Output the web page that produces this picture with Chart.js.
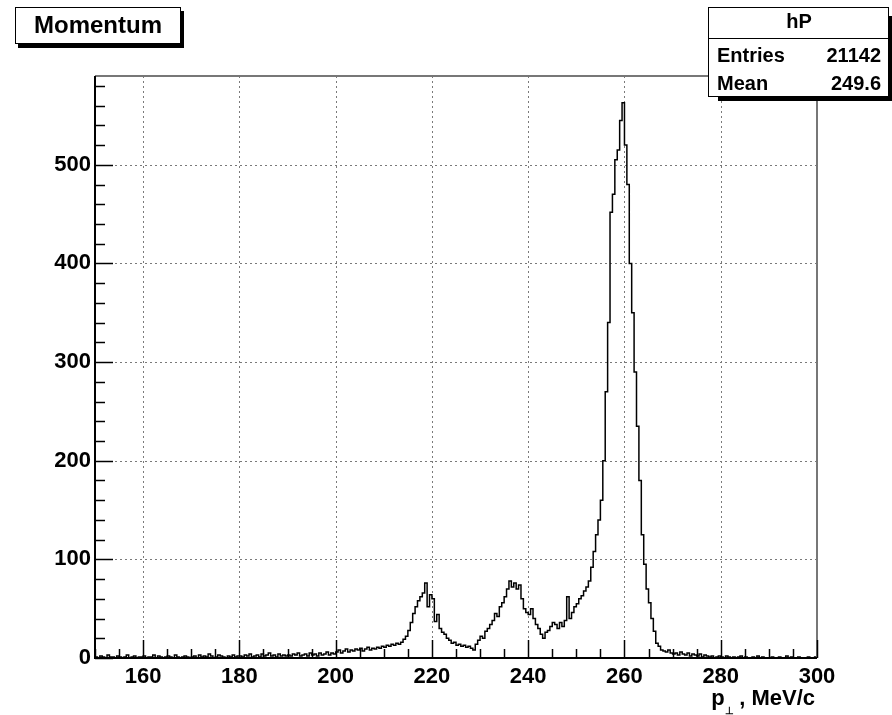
<!DOCTYPE html>
<html>
<head>
<meta charset="utf-8">
<script src="https://cdn.jsdelivr.net/npm/chart.js@4/dist/chart.umd.min.js"></script>
<style>
  html, body { margin: 0; padding: 0; background: #fff; }
  #wrap { width: 892px; height: 715px; position: relative; }
</style>
</head>
<body>
<div id="wrap"><canvas id="hP" width="892" height="715"></canvas></div>
<script>
// histogram hP, bins of 0.5 MeV/c starting at 150
const binStart = 150;
const binWidth = 0.5;
const counts150 = [1, 0, 2, 1, 0, 3, 1, 1, 0, 2, 1, 0, 1, 3, 0, 1, 2, 0, 1, 1];
const counts160 = [2, 0, 1, 1, 3, 0, 2, 1, 0, 1, 2, 1, 0, 3, 1, 0, 1, 2, 1, 0];
const counts170 = [1, 2, 0, 3, 1, 2, 1, 4, 2, 0, 1, 3, 2, 1, 0, 2, 1, 3, 1, 2];
const counts180 = [2, 1, 3, 2, 4, 1, 2, 3, 1, 4, 2, 3, 5, 2, 3, 1, 4, 2, 3, 2];
const counts190 = [3, 2, 4, 3, 5, 2, 3, 4, 2, 5, 3, 4, 2, 5, 3, 4, 6, 3, 5, 4];
const counts200 = [6, 8, 5, 7, 9, 6, 8, 7, 9, 8, 10, 7, 9, 11, 8, 10, 9, 11, 10, 12];
const counts210 = [11, 13, 12, 14, 13, 15, 14, 16, 19, 22, 28, 36, 45, 52, 58, 62, 66, 76, 52, 64];
const counts220 = [60, 37, 44, 30, 26, 24, 20, 18, 15, 16, 13, 14, 12, 13, 11, 12, 10, 8, 14, 18];
const counts230 = [22, 20, 27, 30, 34, 38, 45, 42, 52, 56, 62, 70, 78, 72, 76, 70, 74, 60, 50, 46];
const counts240 = [44, 50, 40, 34, 30, 24, 20, 26, 28, 32, 36, 34, 30, 36, 32, 38, 62, 40, 46, 52];
const counts250 = [55, 60, 63, 68, 72, 78, 92, 108, 125, 140, 160, 200, 270, 340, 452, 470, 505, 515, 545, 563];
const counts260 = [520, 480, 400, 350, 290, 235, 180, 125, 95, 70, 56, 40, 27, 15, 12, 8, 7, 6, 8, 5];
const counts270 = [4, 5, 3, 6, 4, 3, 5, 2, 4, 3, 2, 4, 1, 3, 2, 1, 2, 0, 1, 2];
const counts280 = [1, 0, 2, 1, 0, 1, 0, 1, 2, 0, 1, 0, 0, 1, 0, 2, 0, 1, 0, 0];
const counts290 = [0, 1, 0, 0, 1, 0, 0, 2, 0, 1, 0, 0, 1, 0, 0, 0, 1, 0, 0, 1];

const xTicks = [160, 180, 200, 220, 240, 260, 280, 300];
const yTicks = [0, 100, 200, 300, 400, 500];
const statNames = ['Entries', 'Mean'];
const statValues = ['21142', '249.6'];

const counts = [].concat(counts150, counts160, counts170, counts180, counts190,
    counts200, counts210, counts220, counts230, counts240, counts250,
    counts260, counts270, counts280, counts290);

// left bin edges, plus closing point at 300
const points = counts.map((c, i) => ({ x: binStart + i * binWidth, y: c }));
points.push({ x: binStart + counts.length * binWidth, y: counts[counts.length - 1] });

const FONT = '"Liberation Sans", Arial, sans-serif';

// cadre, grille pointillée, graduations internes (style ROOT)
const rootFrame = {
    id: 'rootFrame',
    beforeDatasetsDraw(chart) {
        const { ctx, chartArea: a, scales: { x, y } } = chart;
        ctx.save();
        ctx.strokeStyle = '#7a7a7a';
        ctx.lineWidth = 1;
        ctx.setLineDash([2, 3]);
        xTicks.forEach(v => {
            const px = Math.round(x.getPixelForValue(v)) + 0.5;
            ctx.beginPath(); ctx.moveTo(px, a.top); ctx.lineTo(px, a.bottom); ctx.stroke();
        });
        yTicks.forEach(v => {
            const py = Math.round(y.getPixelForValue(v)) + 0.5;
            ctx.beginPath(); ctx.moveTo(a.left, py); ctx.lineTo(a.right, py); ctx.stroke();
        });
        ctx.restore();
    },
    afterDatasetsDraw(chart) {
        const { ctx, chartArea: a, scales: { x, y } } = chart;
        ctx.save();
        // frame
        ctx.strokeStyle = '#777';
        ctx.lineWidth = 2;
        ctx.beginPath();
        ctx.moveTo(a.left, a.top); ctx.lineTo(a.right, a.top); ctx.lineTo(a.right, a.bottom);
        ctx.stroke();
        ctx.strokeStyle = '#000';
        ctx.beginPath();
        ctx.moveTo(a.left, a.top); ctx.lineTo(a.left, a.bottom); ctx.lineTo(a.right, a.bottom);
        ctx.stroke();
        // ticks
        ctx.lineWidth = 1.5;
        for (let v = 150; v <= 300; v += 5) {
            const px = Math.round(x.getPixelForValue(v)) + 0.5;
            const len = v % 20 === 0 ? 18 : 9;
            ctx.beginPath(); ctx.moveTo(px, a.bottom); ctx.lineTo(px, a.bottom - len); ctx.stroke();
        }
        for (let v = 0; v <= 580; v += 20) {
            const py = Math.round(y.getPixelForValue(v)) + 0.5;
            const len = v % 100 === 0 ? 18 : 10;
            ctx.beginPath(); ctx.moveTo(a.left, py); ctx.lineTo(a.left + len, py); ctx.stroke();
        }
        ctx.restore();
    },
    afterDraw(chart) {
        const ctx = chart.ctx;
        ctx.save();
        ctx.fillStyle = '#000';
        ctx.strokeStyle = '#000';

        // titre
        ctx.fillRect(18, 11, 166, 37);
        ctx.fillStyle = '#fff';
        ctx.fillRect(15, 7, 166, 37);
        ctx.lineWidth = 1;
        ctx.strokeRect(15.5, 7.5, 165, 36);
        ctx.fillStyle = '#000';
        ctx.font = 'bold 24px ' + FONT;
        ctx.textAlign = 'center';
        ctx.textBaseline = 'middle';
        ctx.fillText('Momentum', 98, 26);

        // boîte de stats
        ctx.fillRect(718, 96, 174, 5);
        ctx.fillRect(888, 16, 4, 85);
        ctx.fillStyle = '#fff';
        ctx.fillRect(708, 7, 181, 90);
        ctx.strokeRect(708.5, 7.5, 180, 89);
        ctx.beginPath(); ctx.moveTo(708, 38.5); ctx.lineTo(889, 38.5); ctx.stroke();
        ctx.fillStyle = '#000';
        ctx.font = 'bold 20px ' + FONT;
        ctx.fillText('hP', 799, 22);
        statNames.forEach((n, i) => {
            const ty = 56 + i * 28;
            ctx.textAlign = 'left';
            ctx.fillText(n, 717, ty);
            ctx.textAlign = 'right';
            ctx.fillText(statValues[i], 881, ty);
        });

        // titre axe x
        ctx.textBaseline = 'alphabetic';
        ctx.textAlign = 'left';
        ctx.font = 'bold 22px ' + FONT;
        const tail = ', MeV/c';
        const tw = ctx.measureText(tail).width;
        const xr = 815;
        ctx.fillText(tail, xr - tw, 705);
        ctx.font = 'bold 10px ' + FONT;
        ctx.fillText('\u22a5', xr - tw - 14, 714);
        ctx.font = 'bold 22px ' + FONT;
        ctx.fillText('p', xr - tw - 28, 705);
        ctx.restore();
    }
};

new Chart(document.getElementById('hP'), {
    type: 'line',
    data: {
        datasets: [{
            data: points,
            stepped: 'before',
            borderColor: '#000',
            borderWidth: 1.5,
            pointRadius: 0,
            fill: false
        }]
    },
    options: {
        responsive: false,
        animation: false,
        layout: { padding: { left: 0, right: 75, top: 76, bottom: 0 } },
        plugins: { legend: { display: false }, tooltip: { enabled: false } },
        scales: {
            x: {
                type: 'linear',
                min: 150,
                max: 300,
                afterBuildTicks: s => { s.ticks = xTicks.map(v => ({ value: v })); },
                afterFit: s => { s.height = 57; },
                grid: { display: false, drawTicks: false },
                border: { display: false },
                ticks: {
                    padding: 6,
                    maxRotation: 0,
                    color: '#000',
                    font: { family: FONT, size: 22, weight: 'bold' }
                }
            },
            y: {
                min: 0,
                max: 590,
                afterBuildTicks: s => { s.ticks = yTicks.map(v => ({ value: v })); },
                afterFit: s => { s.width = 95; },
                grid: { display: false, drawTicks: false },
                border: { display: false },
                ticks: {
                    padding: 4,
                    color: '#000',
                    font: { family: FONT, size: 22, weight: 'bold' }
                }
            }
        }
    },
    plugins: [rootFrame]
});
</script>
</body>
</html>
